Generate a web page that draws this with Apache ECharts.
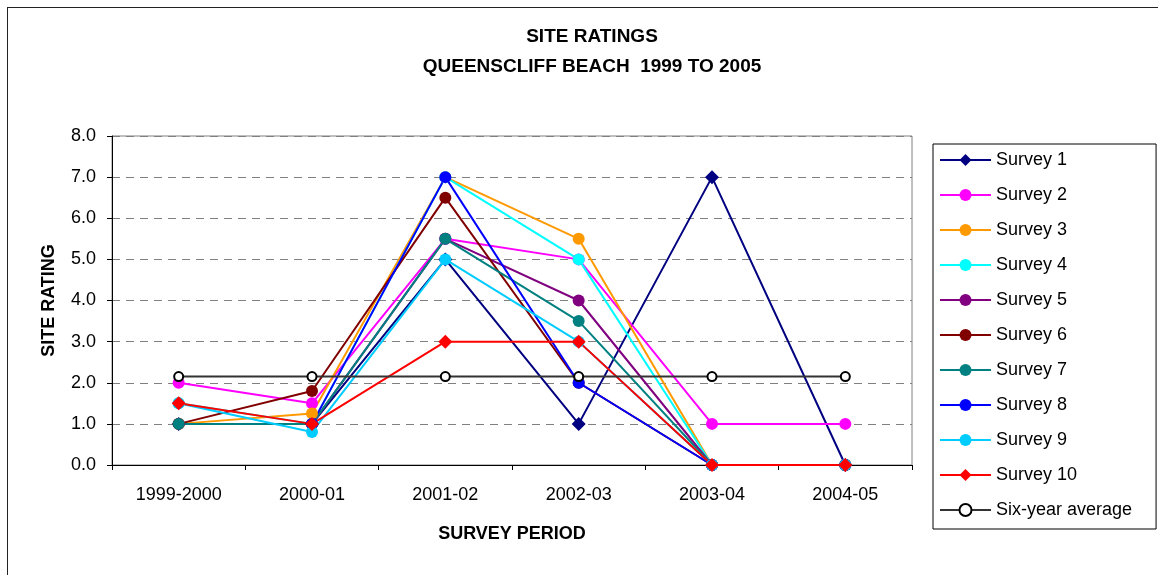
<!DOCTYPE html>
<html>
<head>
<meta charset="utf-8">
<script src="https://cdn.jsdelivr.net/npm/echarts@6/dist/echarts.min.js"></script>
<style>
  html, body { margin: 0; padding: 0; background: #fff; overflow: hidden; }
  #chart { width: 1158px; height: 575px; }
  #frame { position: absolute; left: 7px; top: 7px; width: 1200px; height: 600px;
           border-left: 1px solid #222; border-top: 1px solid #222; pointer-events: none; }
</style>
</head>
<body>
<div id="chart"></div>
<div id="frame"></div>
<script>
// categorieen en waarden
const periods = ['1999-2000', '2000-01', '2001-02', '2002-03', '2003-04', '2004-05'];
const yTicks = [0, 1, 2, 3, 4, 5, 6, 7, 8];

const survey1 = [1.0, 1.0, 5.0, 1.0, 7.0, 0.0];
const survey2 = [2.0, 1.5, 5.5, 5.0, 1.0, 1.0];
const survey3 = [1.0, 1.25, 7.0, 5.5, 0.0, 0.0];
const survey4 = [1.5, 1.0, 7.0, 5.0, 0.0, 0.0];
const survey5 = [1.0, 1.0, 5.5, 4.0, 0.0, 0.0];
const survey6 = [1.0, 1.8, 6.5, 2.0, 0.0, 0.0];
const survey7 = [1.0, 1.0, 5.5, 3.5, 0.0, 0.0];
const survey8 = [null, 1.0, 7.0, 2.0, 0.0, 0.0];
const survey9 = [1.5, 0.8, 5.0, 3.0, 0.0, 0.0];
const survey10 = [1.5, 1.0, 3.0, 3.0, 0.0, 0.0];
const sixYearAvg = [2.15, 2.15, 2.15, 2.15, 2.15, 2.15];

const font = 'Arial, "Liberation Sans", sans-serif';

const surveys = [
  { name: 'Survey 1', data: survey1, color: '#000080', symbol: 'diamond', size: 14 },
  { name: 'Survey 2', data: survey2, color: '#FF00FF', symbol: 'circle', size: 12 },
  { name: 'Survey 3', data: survey3, color: '#FF9900', symbol: 'circle', size: 12 },
  { name: 'Survey 4', data: survey4, color: '#00FFFF', symbol: 'circle', size: 12 },
  { name: 'Survey 5', data: survey5, color: '#800080', symbol: 'circle', size: 12 },
  { name: 'Survey 6', data: survey6, color: '#800000', symbol: 'circle', size: 12 },
  { name: 'Survey 7', data: survey7, color: '#008080', symbol: 'circle', size: 12 },
  { name: 'Survey 8', data: survey8, color: '#0000FF', symbol: 'circle', size: 12 },
  { name: 'Survey 9', data: survey9, color: '#00CCFF', symbol: 'circle', size: 12 },
  { name: 'Survey 10', data: survey10, color: '#FF0000', symbol: 'diamond', size: 14 }
];

const series = surveys.map(s => ({
  name: s.name,
  type: 'line',
  data: s.data,
  symbol: s.symbol,
  symbolSize: s.size,
  showAllSymbol: true,
  connectNulls: false,
  lineStyle: { color: s.color, width: 2 },
  itemStyle: { color: s.color, borderWidth: 0 },
  emphasis: { disabled: true },
  animation: false
}));

series.push({
  name: 'Six-year average',
  type: 'line',
  data: sixYearAvg,
  symbol: 'circle',
  symbolSize: 9,
  lineStyle: { color: '#333', width: 2 },
  itemStyle: { color: '#fff', borderColor: '#000', borderWidth: 2 },
  emphasis: { disabled: true },
  animation: false
});

const chart = echarts.init(document.getElementById('chart'));

chart.setOption({
  animation: false,
  title: {
    text: 'SITE RATINGS\nQUEENSCLIFF BEACH  1999 TO 2005',
    left: 587,
    top: 17,
    textAlign: 'center',
    textStyle: { fontFamily: font, fontSize: 19, fontWeight: 'bold', color: '#000', lineHeight: 30 }
  },
  legend: {
    orient: 'vertical',
    left: 933,
    top: 144,
    padding: [6, 24, 9, 6],
    itemWidth: 51,
    itemHeight: 15,
    itemGap: 15,
    borderColor: '#000',
    borderWidth: 1,
    textStyle: { fontFamily: font, fontSize: 18, color: '#000', lineHeight: 20 },
    data: series.map(s => s.name)
  },
  grid: {
    left: 112, right: 246, top: 136, bottom: 110,
    show: true, borderColor: '#808080', borderWidth: 1
  },
  xAxis: {
    type: 'category',
    data: periods,
    boundaryGap: true,
    name: 'SURVEY PERIOD',
    nameLocation: 'middle',
    nameGap: 60,
    nameTextStyle: { fontFamily: font, fontSize: 18, fontWeight: 'bold', color: '#000' },
    axisLine: { lineStyle: { color: '#000', width: 1 } },
    axisTick: { show: true, alignWithLabel: false, length: 5, lineStyle: { color: '#000' } },
    axisLabel: { fontFamily: font, fontSize: 18, color: '#000', margin: 21 }
  },
  yAxis: {
    type: 'value',
    min: yTicks[0],
    max: yTicks[yTicks.length - 1],
    interval: 1,
    name: 'SITE RATING',
    nameLocation: 'middle',
    nameGap: 54,
    nameTextStyle: { fontFamily: font, fontSize: 18, fontWeight: 'bold', color: '#000' },
    axisLine: { show: true, lineStyle: { color: '#000', width: 1 } },
    axisTick: { show: true, length: 5, lineStyle: { color: '#000' } },
    axisLabel: { fontFamily: font, fontSize: 18, color: '#000', margin: 16, formatter: v => v.toFixed(1) },
    splitLine: { show: true, lineStyle: { color: '#808080', type: [8, 6], width: 1 } }
  },
  series: series
});
</script>
</body>
</html>
